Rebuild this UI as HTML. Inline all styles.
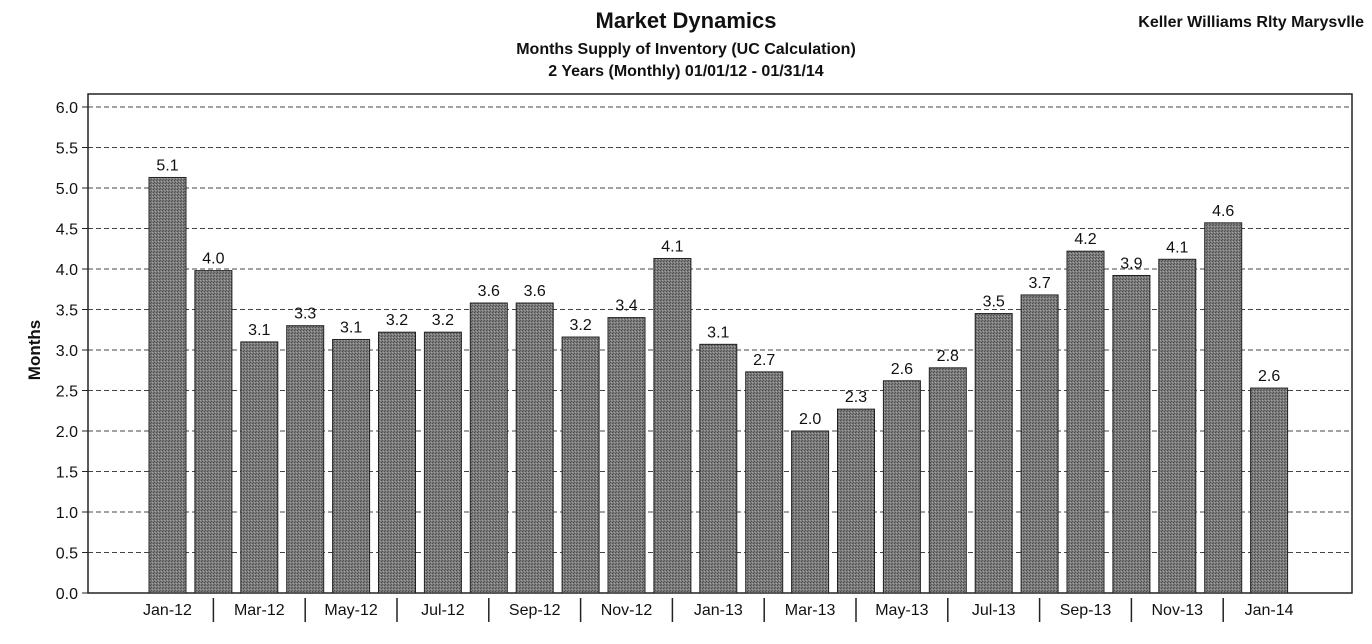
<!DOCTYPE html>
<html><head><style>
body{margin:0;background:#fff;}
svg text{font-family:"Liberation Sans",Arial,sans-serif;}
</style></head><body>
<svg width="1372" height="639" xmlns="http://www.w3.org/2000/svg">
<defs>
<pattern id="p" width="3" height="3" patternUnits="userSpaceOnUse">
<rect width="3" height="3" fill="#7c7c7c"/><rect width="1" height="1" fill="#4a4a4a"/><rect x="2" y="1" width="1" height="1" fill="#a4a4a4"/><rect x="1" y="2" width="1" height="1" fill="#555"/>
</pattern>
</defs>
<text x="686" y="28" font-size="22" font-weight="bold" text-anchor="middle" fill="#111">Market Dynamics</text>
<text x="686" y="54" font-size="16" font-weight="bold" text-anchor="middle" fill="#111">Months Supply of Inventory (UC Calculation)</text>
<text x="686" y="76" font-size="16" font-weight="bold" text-anchor="middle" fill="#111">2 Years (Monthly) 01/01/12 - 01/31/14</text>
<text x="1364" y="27" font-size="16" font-weight="bold" text-anchor="end" fill="#111">Keller Williams Rlty Marysvlle</text>
<text transform="translate(40,350) rotate(-90)" font-size="17" font-weight="bold" text-anchor="middle" fill="#111">Months</text>
<g id="grid"></g>
<rect x="88" y="94" width="1264" height="499" fill="none" stroke="#222" stroke-width="1.5"/>
<g id="chart"></g>
<script>
var s="http://www.w3.org/2000/svg",g=document.getElementById('chart'),gr=document.getElementById('grid');
function el(t,a,p,txt){var e=document.createElementNS(s,t);for(var k in a)e.setAttribute(k,a[k]);if(txt)e.textContent=txt;(p||g).appendChild(e);return e;}
var y0=593,u=81;
for(var i=0;i<=12;i++){var v=i*0.5,y=y0-v*u;
 if(i>0)el('line',{x1:88,x2:1352,y1:y,y2:y,stroke:'#444','stroke-dasharray':'5,3','stroke-width':1},gr);
 el('line',{x1:82,x2:88,y1:y,y2:y,stroke:'#222'});
 el('text',{x:78,y:y+6,'font-size':16,'text-anchor':'end',fill:'#111'},null,v.toFixed(1));}
var vals=[5.13,3.98,3.1,3.3,3.13,3.22,3.22,3.58,3.58,3.16,3.4,4.13,3.07,2.73,2.0,2.27,2.62,2.78,3.45,3.68,4.22,3.92,4.12,4.57,2.53];
var labs=['5.1','4.0','3.1','3.3','3.1','3.2','3.2','3.6','3.6','3.2','3.4','4.1','3.1','2.7','2.0','2.3','2.6','2.8','3.5','3.7','4.2','3.9','4.1','4.6','2.6'];
var mons=['Jan-12','Mar-12','May-12','Jul-12','Sep-12','Nov-12','Jan-13','Mar-13','May-13','Jul-13','Sep-13','Nov-13','Jan-14'];
for(var i=0;i<25;i++){var x=149+i*45.9,h=vals[i]*u;
 el('rect',{x:x,y:y0-h,width:37,height:h,fill:'url(#p)',stroke:'#222','stroke-width':1});
 el('text',{x:x+18.5,y:y0-h-7,'font-size':16,'text-anchor':'middle',fill:'#111'},null,labs[i]);
 if(i%2==0)el('text',{x:x+18.5,y:615,'font-size':16,'text-anchor':'middle',fill:'#111'},null,mons[i/2]);
 else el('line',{x1:x+18.5,x2:x+18.5,y1:598,y2:622,stroke:'#222','stroke-width':1.5});}
</script>
</svg>
</body></html>
